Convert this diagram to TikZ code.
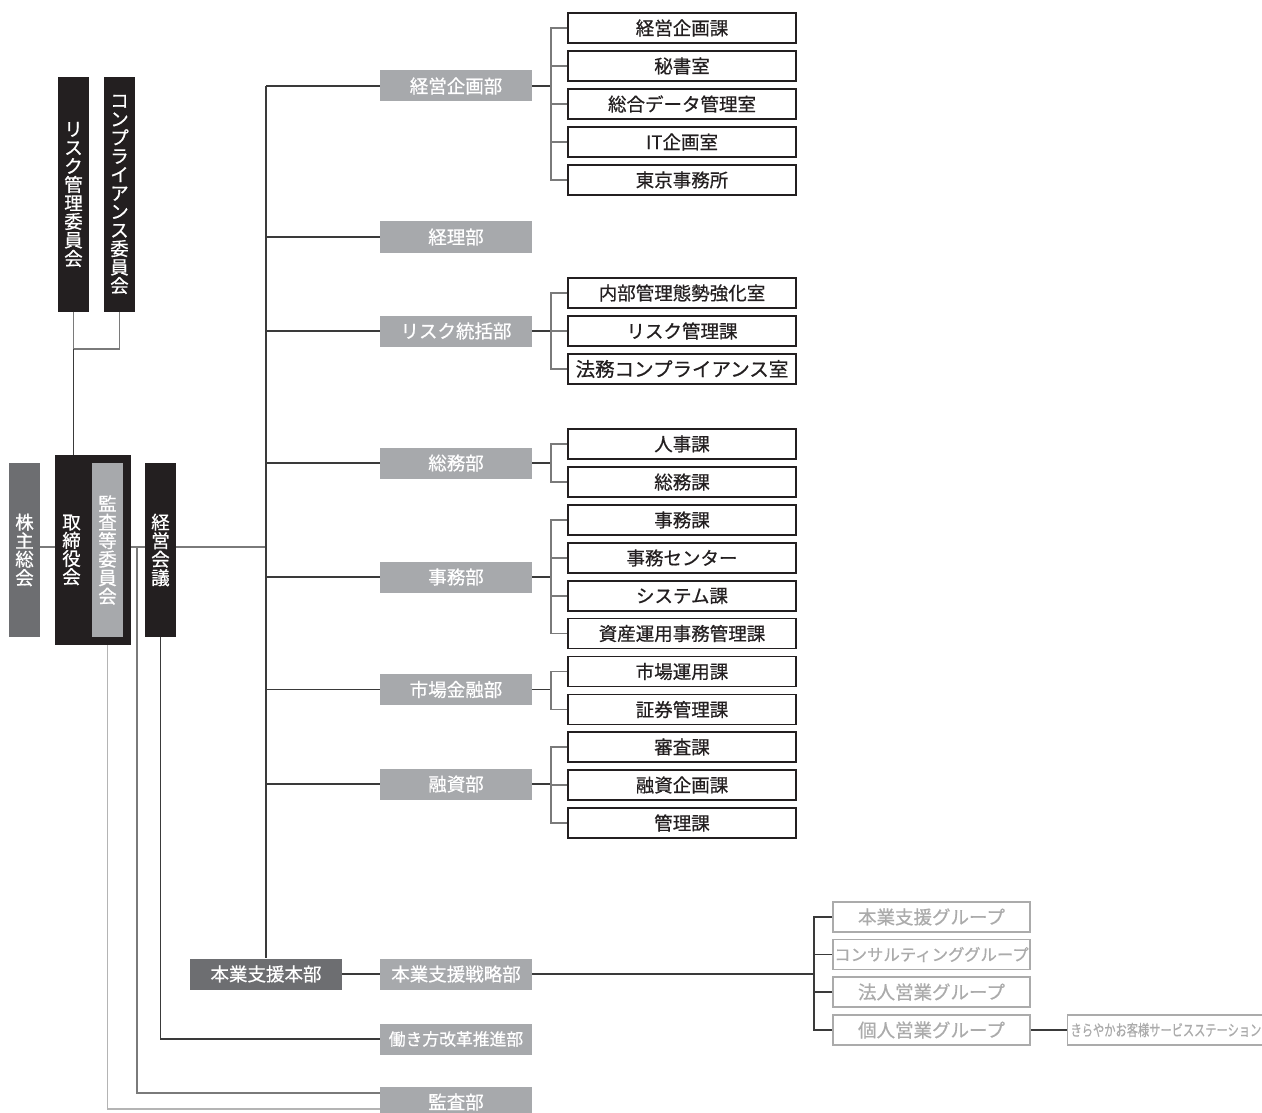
\documentclass[tikz,border=0pt]{standalone}
\usepackage{fontspec}
\setmainfont{Noto Sans CJK JP}[FakeBold=0.6]
\usepackage{graphicx}
\definecolor{ink}{HTML}{231F20}
\definecolor{dgray}{HTML}{6D6E71}
\definecolor{lgray}{HTML}{A7A9AC}
\definecolor{ggray}{HTML}{ABABAB}
\definecolor{dline}{HTML}{3A3A3A}
\definecolor{mline}{HTML}{7A7A7A}
\definecolor{lline}{HTML}{B4B4B4}
\newcommand\myfs[2]{\fontsize{#1}{#2}\selectfont\lineskiplimit=-20pt\relax}
\tikzset{
  vbox/.style={minimum width=31, minimum height=174, inner sep=0, text=white, align=center, font=\myfs{18.5}{18.5}},
  dept/.style={fill=lgray, text=white, minimum width=152, minimum height=31, inner sep=0, font=\myfs{18.5}{18.5}},
  subbox/.style={draw=ink, line width=1.5, fill=white, minimum width=228, minimum height=30, inner sep=0, text=ink, font=\myfs{18.5}{18.5}},
  grp/.style={draw=ggray, line width=1.2, fill=white, minimum width=197, minimum height=30, inner sep=0, text=ggray, font=\myfs{18.5}{18.5}},
  ln/.style={line width=1.2, draw=dline},
  sl/.style={line width=1.2, draw=mline},
  ll/.style={line width=1.2, draw=lline},
}
\begin{document}
\begin{tikzpicture}[x=1pt,y=-1pt]
\useasboundingbox[fill=white] (0,0) rectangle (1262,1113);

% coordinates
\coordinate (J) at (266,547);
\coordinate (C) at (0,349);
\coordinate (B) at (551,0);
\coordinate (G) at (814,0);

% ---- left column
\node[vbox, fill=ink, minimum height=235] (riskc) at (73.5,194.5) {リ\\ス\\ク\\管\\理\\委\\員\\会};
\node[vbox, fill=ink, minimum height=235] (compc) at (119.5,194.5) {コ\\ン\\プ\\ラ\\イ\\ア\\ン\\ス\\委\\員\\会};
\node[vbox, fill=dgray] (kabu) at (24.5,550) {株\\主\\総\\会};
\node[fill=ink, minimum width=76, minimum height=190, inner sep=0] (tori) at (93,550) {};
\node[text=white, align=center, inner sep=0, font=\myfs{18.5}{18.2}] (toritext) at (71.5,550) {取\\締\\役\\会};
\node[vbox, fill=lgray] (kansai) at (107.5,550) {監\\査\\等\\委\\員\\会};
\node[vbox, fill=ink] (kaigi) at (160.5,550) {経\\営\\会\\議};

% ---- departments
\node[dept] (d1) at (456,86) {経営企画部};
\node[dept] (d2) at (456,237) {経理部};
\node[dept] (d3) at (456,331) {リスク統括部};
\node[dept] (d4) at (456,463) {総務部};
\node[dept] (d5) at (456,577) {事務部};
\node[dept] (d6) at (456,689.5) {市場金融部};
\node[dept] (d7) at (456,784) {融資部};
\node[dept] (d8) at (456,974) {本業支援戦略部};
\node[dept, font=\myfs{16.8}{16.8}] (d9) at (456,1039) {働き方改革推進部};
\node[dept] (d10) at (456,1102) {監査部};
\node[dept, fill=dgray] (honbu) at (266,974) {本業支援本部};

% ---- sections
\node[subbox] (s11) at (682,28) {経営企画課};
\node[subbox] (s12) at (682,66) {秘書室};
\node[subbox] (s13) at (682,104) {総合データ管理室};
\node[subbox] (s14) at (682,142) {IT企画室};
\node[subbox] (s15) at (682,180) {東京事務所};
\node[subbox] (s31) at (682,293) {内部管理態勢強化室};
\node[subbox] (s32) at (682,331) {リスク管理課};
\node[subbox, font=\myfs{19.5}{19.5}] (s33) at (682,369) {法務コンプライアンス室};
\node[subbox] (s41) at (682,444) {人事課};
\node[subbox] (s42) at (682,482) {総務課};
\node[subbox] (s51) at (682,520) {事務課};
\node[subbox] (s52) at (682,558) {事務センター};
\node[subbox] (s53) at (682,596) {システム課};
\node[subbox] (s54) at (682,633.5) {資産運用事務管理課};
\node[subbox] (s61) at (682,671.5) {市場運用課};
\node[subbox] (s62) at (682,709.5) {証券管理課};
\node[subbox] (s71) at (682,747) {審査課};
\node[subbox] (s72) at (682,785) {融資企画課};
\node[subbox] (s73) at (682,823) {管理課};

% ---- groups
\node[grp] (g1) at (931.5,917) {本業支援グループ};
\node[grp, font=\myfs{16.4}{16.4}] (g2) at (931.5,954.5) {コンサルティンググループ};
\node[grp] (g3) at (931.5,992) {法人営業グループ};
\node[grp] (g4) at (931.5,1030) {個人営業グループ};
\node[draw=ggray, line width=1.2, anchor=west, minimum height=30, inner xsep=3, inner ysep=0, text=ggray, font=\myfs{15.6}{15.6}] (kira) at (1067,1030) {\scalebox{0.72}[1]{きらやかお客様サービスステーション}};

% ---- connectors: left
\draw[sl] (riskc.south) -- (riskc.south |- C) -| (compc.south);
\draw[ln] (riskc.south |- C) -- (riskc.south |- tori.north);
\draw[sl] (kabu.east |- J) -- (tori.west |- J);
\draw[sl] (tori.east |- J) -- (kaigi.west |- J);
\draw[sl] (kaigi.east |- J) -- (J);
\draw[mline, line width=1.2] (137,547) |- (d10.west |- 0,1093);
\draw[ll] (kansai.south |- tori.south) |- (d10.west |- 0,1109);
\draw[ln] (kaigi.south) |- (d9.west);

% trunk
\draw[ln] (d1.west -| J) -- (honbu.north);
\foreach \d in {d1,d2,d3,d4,d5,d6,d7}
  \draw[ln] (\d.west) -- (\d.west -| J);
\draw[ln] (honbu.east) -- (d8.west);

% branches
\draw[ln] (d1.east) -- (d1.east -| B);
\draw[sl] (s11.west) -| (B |- s15.west) -- (s15.west);
\foreach \s in {s12,s13,s14} \draw[sl] (\s.west) -- (\s.west -| B);

\draw[ln] (d3.east) -- (d3.east -| B);
\draw[sl] (s31.west) -| (B |- s33.west) -- (s33.west);
\draw[sl] (s32.west) -- (s32.west -| B);

\draw[ln] (d4.east) -- (d4.east -| B);
\draw[sl] (s41.west) -| (B |- s42.west) -- (s42.west);

\draw[ln] (d5.east) -- (d5.east -| B);
\draw[sl] (s51.west) -| (B |- s54.west) -- (s54.west);
\foreach \s in {s52,s53} \draw[sl] (\s.west) -- (\s.west -| B);

\draw[ln] (d6.east) -- (d6.east -| B);
\draw[sl] (s61.west) -| (B |- s62.west) -- (s62.west);

\draw[ln] (d7.east) -- (d7.east -| B);
\draw[sl] (s71.west) -| (B |- s73.west) -- (s73.west);
\draw[sl] (s72.west) -- (s72.west -| B);

\draw[ln] (d8.east) -- (d8.east -| G);
\draw[ln] (g1.west) -| (G |- g4.west) -- (g4.west);
\foreach \g in {g2,g3} \draw[ln] (\g.west) -- (\g.west -| G);
\draw[ln] (g4.east) -- (kira.west);
\end{tikzpicture}
\end{document}
